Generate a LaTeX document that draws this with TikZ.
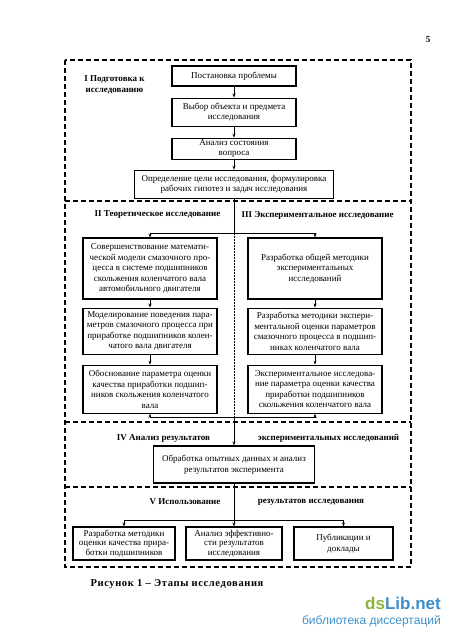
\documentclass[tikz,border=0pt]{standalone}
\usepackage{fontspec}
\setmainfont{Liberation Serif}
\newfontfamily\wmfont{Liberation Sans}
\newfontfamily\capfont[LetterSpace=6]{Liberation Serif}
\usetikzlibrary{
	arrows.meta,
	positioning
}
\definecolor{wmgreen}{HTML}{8AB43C}
\definecolor{wmblue}{HTML}{3F8FC9}

\begin{document}
\begin{tikzpicture}[x=1pt, y=-1pt,
		box/.style={draw, line width=1.1pt, align=center, inner sep=1pt, font=\fontsize{9}{10.5}\selectfont},
		arrow/.style={-{Stealth[length=4pt, width=3pt]}, line width=0.7pt},
		link/.style={line width=0.7pt},
		frame/.style={line width=1.1pt, dash pattern=on 5pt off 3pt},
		divider/.style={line width=0.6pt, dash pattern=on 1.5pt off 1.5pt},
		sect/.style={font=\bfseries\fontsize{9}{11.5}\selectfont, align=center}
		]
		\useasboundingbox (0,0) rectangle (450,633);
		
		% stage frames
		\draw[frame] (65,60) rectangle (411,567);
		\draw[frame] (65,201) -- (411,201);
		\draw[frame] (65,422) -- (411,422);
		\draw[frame] (65,487) -- (411,487);
		
		% I
		\node[sect] (lblI) at (114.5,85) {I Подготовка к\\исследованию};
		\node[box, minimum width=124pt, minimum height=20pt] (prob) at (234,76) {Постановка проблемы};
		\node[box, minimum width=124pt, minimum height=28pt, below=11pt of prob] (obj) {
			Выбор объекта и предмета\\
			исследования
		};
		\node[box, minimum width=124pt, minimum height=21pt, below=11pt of obj, font=\fontsize{9}{9.5}\selectfont] (state) {
			Анализ состояния\\
			вопроса
		};
		\node[box, minimum width=199pt, minimum height=28pt, below=10pt of state] (goal) {
			Определение цели исследования, формулировка\\
			рабочих гипотез и задач исследования
		};
		
		% II and III
		\node[sect] (lblII) at (157.5,215) {II Теоретическое исследование};
		\node[sect] (lblIII) at (317.5,215) {III Экспериментальное исследование};
		
		\node[box, minimum width=134pt, minimum height=61pt] (theo1) at (150,268.5) {
			Совершенствование математи-\\
			ческой модели смазочного про-\\
			цесса в системе подшипников\\
			скольжения коленчатого вала\\
			автомобильного двигателя
		};
		\node[box, minimum width=134pt, minimum height=46pt, below=8pt of theo1] (theo2) {
			Моделирование поведения пара-\\
			метров смазочного процесса при\\
			приработке подшипников колен-\\
			чатого вала двигателя
		};
		\node[box, minimum width=134pt, minimum height=48pt, below=10pt of theo2] (theo3) {
			Обоснование параметра оценки\\
			качества приработки подшип-\\
			ников скольжения коленчатого\\
			вала
		};
		
		\node[box, minimum width=134pt, minimum height=61pt] (exp1) at (315,268.5) {
			Разработка общей методики\\
			экспериментальных\\
			исследований
		};
		\node[box, minimum width=134pt, minimum height=46pt, below=8pt of exp1] (exp2) {
			Разработка методики экспери-\\
			ментальной оценки параметров\\
			смазочного процесса в подшип-\\
			никах коленчатого вала
		};
		\node[box, minimum width=134pt, minimum height=48pt, below=10pt of exp2] (exp3) {
			Экспериментальное исследова-\\
			ние параметра оценки качества\\
			приработки подшипников\\
			скольжения коленчатого вала
		};
		
		% IV
		\node[sect] (lblIVa) at (163.5,438) {IV Анализ результатов};
		\node[sect] (lblIVb) at (328.5,438) {экспериментальных исследований};
		\node[box, minimum width=161pt, minimum height=37pt] (anal) at (234,464.5) {
			Обработка опытных данных и анализ\\
			результатов эксперимента
		};
		
		% V
		\node[sect] (lblVa) at (185,502) {V Использование};
		\node[sect] (lblVb) at (311,502) {результатов исследования};
		\node[box, minimum width=102pt, minimum height=33pt, font=\fontsize{9}{9.5}\selectfont] (use1) at (124,543.5) {
			Разработка методики\\
			оценки качества прира-\\
			ботки подшипников
		};
		\node[box, minimum width=96pt, minimum height=33pt, font=\fontsize{9}{9.5}\selectfont] (use2) at (234,543.5) {
			Анализ эффективно-\\
			сти результатов\\
			исследования
		};
		\node[box, minimum width=99pt, minimum height=33pt] (use3) at (343.5,543.5) {
			Публикации и\\
			доклады
		};
		
		% connectors
		\coordinate (split) at (234,233);
		\coordinate (merge) at (234,417);
		\coordinate (fork) at (234,520);
		
		\draw[arrow] (prob) -- (obj);
		\draw[arrow] (obj) -- (state);
		\draw[arrow] (state) -- (goal);
		\draw[link] (goal.south) -- (split);
		\draw[arrow] (split) -| (theo1.north);
		\draw[arrow] (split) -| (exp1.north);
		\draw[divider] (split) -- (merge);
		\draw[arrow] (theo1) -- (theo2);
		\draw[arrow] (theo2) -- (theo3);
		\draw[arrow] (exp1) -- (exp2);
		\draw[arrow] (exp2) -- (exp3);
		\draw[arrow] (merge) -| (theo3.south);
		\draw[arrow] (merge) -| (exp3.south);
		\draw[arrow] (merge) -- (anal.north);
		\draw[arrow] (anal) -- (use2);
		\draw[arrow] (fork) -| (use1.north);
		\draw[arrow] (fork) -| (use3.north);
		
		% caption, page number, watermark
		\node[font=\capfont\bfseries\fontsize{10.5}{12}\selectfont] (caption) at (177,584) {Рисунок 1 – Этапы исследования};
		\node[font=\bfseries\fontsize{9}{11}\selectfont] (pagenum) at (428,40) {5};
		\node[anchor=east, font=\wmfont\bfseries\fontsize{17}{18}\selectfont, inner sep=0pt] (wmname) at (441,603) {\textcolor{wmgreen}{ds}\textcolor{wmblue}{Lib.net}};
		\node[anchor=east, font=\wmfont\fontsize{12}{13}\selectfont, text=wmblue, inner sep=0pt] (wmsub) at (441,621) {библиотека диссертаций};
		
	\end{tikzpicture}
\end{document}
